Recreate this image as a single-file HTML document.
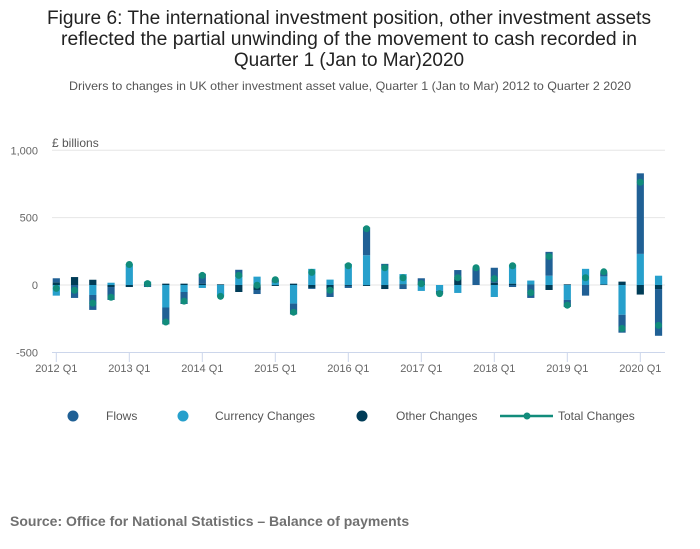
<!DOCTYPE html>
<html><head><meta charset="utf-8"><style>
body{margin:0;background:#fff;font-family:"Liberation Sans",sans-serif;}
#wrap{position:relative;width:700px;height:549px;overflow:hidden;}
</style></head><body>
<div id="wrap">
<svg id="chart" width="700" height="549" xmlns="http://www.w3.org/2000/svg">
<g font-size="19" fill="#222" text-anchor="middle" textLength="0">
<text x="349" y="24" textLength="604" lengthAdjust="spacingAndGlyphs">Figure 6: The international investment position, other investment assets</text>
<text x="349" y="45" textLength="576" lengthAdjust="spacingAndGlyphs">reflected the partial unwinding of the movement to cash recorded in</text>
<text x="349" y="66">Quarter 1 (Jan to Mar)2020</text>
</g>
<text x="350" y="90" font-size="12" fill="#555" text-anchor="middle" textLength="562" lengthAdjust="spacingAndGlyphs">Drivers to changes in UK other investment asset value, Quarter 1 (Jan to Mar) 2012 to Quarter 2 2020</text>
<text x="52" y="147" font-size="12" fill="#555">£ billions</text>
<g id="grid"></g><g id="bars"></g><g id="dots"></g><g id="xaxis"></g>
<g font-size="12" fill="#555">
<g><circle cx="73" cy="416" r="5.5" fill="#206095"/><text x="106" y="420">Flows</text></g>
<g><circle cx="183" cy="416" r="5.5" fill="#27a0cc"/><text x="215" y="420">Currency Changes</text></g>
<g><circle cx="362" cy="416" r="5.5" fill="#003c57"/><text x="396" y="420">Other Changes</text></g>
<g><line x1="500" y1="416" x2="553" y2="416" stroke="#118c7b" stroke-width="2.5"/><circle cx="527" cy="416" r="3.5" fill="#118c7b"/><text x="558" y="420">Total Changes</text></g>
</g>
<text x="10" y="526" font-size="14" font-weight="bold" fill="#707070">Source: Office for National Statistics – Balance of payments</text>
</svg>
</div>
<script>
const quarters = ["2012 Q1","2012 Q2","2012 Q3","2012 Q4","2013 Q1","2013 Q2","2013 Q3","2013 Q4","2014 Q1","2014 Q2","2014 Q3","2014 Q4","2015 Q1","2015 Q2","2015 Q3","2015 Q4","2016 Q1","2016 Q2","2016 Q3","2016 Q4","2017 Q1","2017 Q2","2017 Q3","2017 Q4","2018 Q1","2018 Q2","2018 Q3","2018 Q4","2019 Q1","2019 Q2","2019 Q3","2019 Q4","2020 Q1","2020 Q2"];
const flows = [30,-96,-111,-96,0,-15,-125,-89,74,-5,54,-30,22,-81,-7,-52,-15,207,22,-30,40,-22,52,128,111,-15,-96,177,-52,-79,30,-133,598,-347];
const currency = [-79,0,-74,17,157,15,-167,-52,-22,-79,59,62,17,-138,120,40,157,221,135,76,-44,-44,-59,0,-89,140,30,69,-111,120,59,-221,231,69];
const other = [20,59,39,-15,-15,10,10,10,10,5,-52,-37,-7,10,-22,-37,-7,-7,-30,5,10,0,59,0,17,10,3,-37,5,0,5,25,-71,-30];
const total = [-25,-39,-135,-91,152,10,-275,-120,71,-84,71,-2,39,-202,94,-39,143,418,128,54,10,-64,54,128,47,143,-57,212,-150,54,98,-322,763,-300];
const yTicks = [-500,0,500,1000];
const yTickLabels = ["-500","0","500","1,000"];
const xTickLabels = ["2012 Q1","2013 Q1","2014 Q1","2015 Q1","2016 Q1","2017 Q1","2018 Q1","2019 Q1","2020 Q1"];

const NS="http://www.w3.org/2000/svg";
function y(v){return 285 - v*0.1347;}
function x(i){return 56.3 + i*18.25;}
function mk(tag,attrs,parent){const e=document.createElementNS(NS,tag);for(const k in attrs)e.setAttribute(k,attrs[k]);parent.appendChild(e);return e;}
const grid=document.getElementById('grid'),bars=document.getElementById('bars'),dots=document.getElementById('dots'),xa=document.getElementById('xaxis');
yTicks.forEach((t,k)=>{
  if(t!==-500){const g=mk('line',{x1:52,x2:665,y1:y(t),y2:y(t),stroke:'#e6e6e6','stroke-width':1},grid);
  
  }
  const l=mk('text',{x:38,y:y(t)+4,'font-size':11,fill:'#666','text-anchor':'end'},grid);
  l.textContent=yTickLabels[k];
  
  
});
const ax=mk('line',{x1:52,x2:665,y1:352.5,y2:352.5,stroke:'#ccd6eb','stroke-width':1},xa);


xTickLabels.forEach((lab,k)=>{
  const xi=x(k*4);
  const t=mk('line',{x1:xi,x2:xi,y1:352,y2:362,stroke:'#ccd6eb','stroke-width':1},xa);
  
  
  const l=mk('text',{x:xi,y:372,'font-size':11,fill:'#666','text-anchor':'middle'},xa);
  l.textContent=lab;
  
  
});
const series=[['other',other,'#003c57'],['currency',currency,'#27a0cc'],['flows',flows,'#206095']];
quarters.forEach((q,i)=>{
  let pos=0,neg=0;
  series.forEach(([nm,arr,col])=>{
    const v=arr[i];if(!v)return;
    let a,b;
    if(v>0){a=pos;b=pos+v;pos=b;}else{a=neg;b=neg+v;neg=b;}
    const y1=Math.min(y(a),y(b)),h=Math.abs(y(a)-y(b));
    const r=mk('rect',{x:x(i)-3.6,y:y1,width:7.2,height:h,fill:col},bars);
    
    
  });
  const c=mk('circle',{cx:x(i),cy:y(total[i]),r:3.5,fill:'#118c7b'},dots);
  
  
});
</script>
</body></html>
